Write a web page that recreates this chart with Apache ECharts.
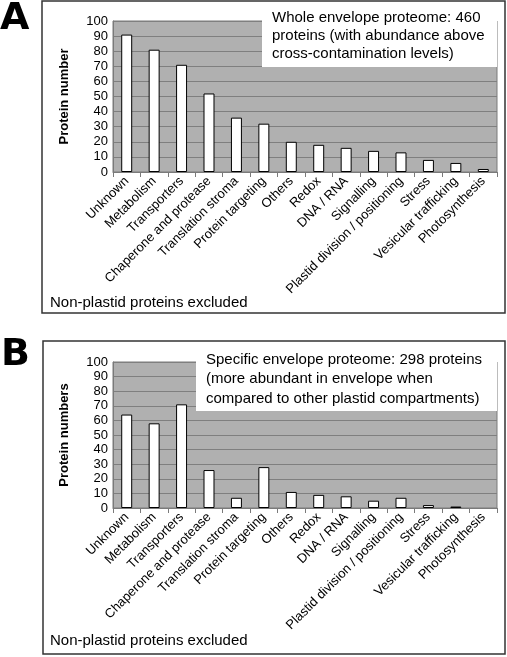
<!DOCTYPE html>
<html><head><meta charset="utf-8">
<script src="https://cdn.jsdelivr.net/npm/echarts@6/dist/echarts.min.js"></script>
<style>html,body{margin:0;padding:0;background:#fff}#c{width:507px;height:657px}</style>
</head><body><div id="c"></div>
<script>
const categories = ["Unknown","Metabolism","Transporters","Chaperone and protease","Translation stroma","Protein targeting","Others","Redox","DNA / RNA","Signalling","Plastid division / positioning","Stress","Vesicular trafficking","Photosynthesis"];
const valuesA = [91,81,71,52,36,32,20,18,16,14,13,8,6,2];
const valuesB = [64,58,71,26,7,28,11,9,8,5,7,2,1,0];
const yTicks = {min:0, max:100, interval:10};
const textA = ["Whole envelope proteome: 460","proteins (with abundance above","cross-contamination levels)"];
const textB = ["Specific envelope proteome: 298 proteins","(more abundant in envelope when","compared to other plastid compartments)"];
const yNameA = "Protein number";
const yNameB = "Protein numbers";
const footNote = "Non-plastid proteins excluded";

const FONT = "Liberation Sans, Arial, sans-serif";
function xAx(gi){return {type:'category',gridIndex:gi,data:categories,boundaryGap:true,
  axisLine:{lineStyle:{color:'#7a7a7a',width:1}},
  axisTick:{show:true,alignWithLabel:false,length:5,lineStyle:{color:'#7a7a7a'}},
  axisLabel:{interval:0,rotate:45,fontSize:13,fontFamily:FONT,color:'#000',margin:7}};}
function yAx(gi,name){return {type:'value',gridIndex:gi,min:yTicks.min,max:yTicks.max,interval:yTicks.interval,
  name:name,nameLocation:'middle',nameGap:42,nameRotate:90,
  nameTextStyle:{fontSize:13,fontWeight:'bold',fontFamily:FONT,color:'#000'},
  axisLine:{show:true,lineStyle:{color:'#7a7a7a'}},axisTick:{show:false},
  axisLabel:{fontSize:13,fontFamily:FONT,color:'#000',margin:5},
  splitLine:{show:true,lineStyle:{color:'#7f7f7f',width:1}}};}
function bar(gi,data){return {type:'bar',xAxisIndex:gi,yAxisIndex:gi,
  data:data.map(v=>v===0?{value:v,itemStyle:{borderWidth:0,color:'transparent'}}:v),barWidth:'40%',
  itemStyle:{color:'#fff',borderColor:'#000',borderWidth:1},silent:true};}
function textLines(lines,x,y0,dy){return lines.map((t,i)=>({type:'text',z:20,left:x,top:y0+i*dy,
  style:{text:t,font:'15px '+FONT,fill:'#000',textVerticalAlign:'middle'}}));}

const chart = echarts.init(document.getElementById('c'),null,{renderer:'canvas'});
chart.setOption({
  animation:false,
  backgroundColor:'#fff',
  grid:[
    {left:113,top:21,width:384,height:151,show:true,backgroundColor:'#b0b0b0',borderColor:'#7a7a7a',borderWidth:1},
    {left:113,top:362,width:384,height:146,show:true,backgroundColor:'#b0b0b0',borderColor:'#7a7a7a',borderWidth:1}
  ],
  xAxis:[xAx(0),xAx(1)],
  yAxis:[yAx(0,yNameA),yAx(1,yNameB)],
  series:[bar(0,valuesA),bar(1,valuesB)],
  graphic:[
    {type:'rect',z:5,shape:{x:42,y:1,width:463,height:312},style:{fill:'none',stroke:'#333',lineWidth:1.5}},
    {type:'rect',z:5,shape:{x:43,y:341,width:462,height:313},style:{fill:'none',stroke:'#333',lineWidth:1.5}},
    {type:'rect',z:10,shape:{x:262,y:3,width:235,height:64},style:{fill:'#fff'}},
    {type:'rect',z:10,shape:{x:196,y:343,width:301,height:68},style:{fill:'#fff'}},
    ...textLines(textA,272,10,18),
    ...textLines(textB,206,352,19.5),
    {type:'text',z:20,left:50,top:295,style:{text:footNote,font:'15px '+FONT,fill:'#000'}},
    {type:'text',z:20,left:50,top:633,style:{text:footNote,font:'15px '+FONT,fill:'#000'}},
    {type:'text',z:20,left:0,top:0,style:{text:'A',font:'bold 38px DejaVu Sans',fill:'#000'}},
    {type:'text',z:20,left:1,top:336,style:{text:'B',font:'bold 38px DejaVu Sans',fill:'#000'}}
  ]
});
</script></body></html>
